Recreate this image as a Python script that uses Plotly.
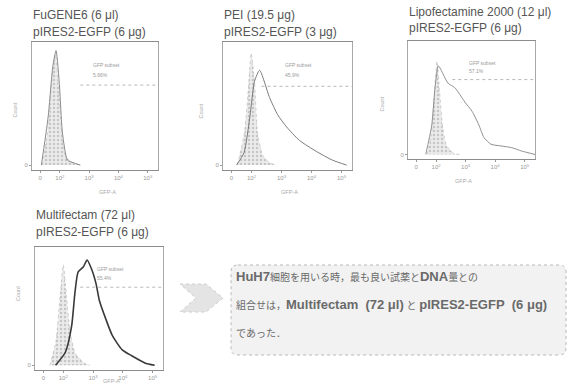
import plotly.graph_objects as go

W, H = 568, 390

# ---------------- data (u = log10 position on biexponential GFP-A axis) ----------------
titles = [
    ["FuGENE6 (6 μl)", "pIRES2-EGFP (6 μg)"],
    ["PEI (19.5 μg)", "pIRES2-EGFP (3 μg)"],
    ["Lipofectamine 2000 (12 μl)", "pIRES2-EGFP (6 μg)"],
    ["Multifectam (72 μl)", "pIRES2-EGFP (6 μg)"],
]
gfp_pct = ["5.66%", "45.9%", "57.1%", "55.4%"]

ctrl1_x = [1.40, 1.60, 1.75, 1.85, 1.95, 2.05, 2.20, 2.50, 2.70]
ctrl1_y = [0.00, 0.30, 0.75, 0.90, 0.65, 0.30, 0.07, 0.01, 0.00]
samp1_x = [1.37, 1.60, 1.76, 1.87, 1.98, 2.09, 2.26, 2.45, 2.70]
samp1_y = [0.00, 0.39, 0.80, 0.93, 0.67, 0.26, 0.04, 0.02, 0.00]

ctrl2_x = [1.53, 1.77, 1.91, 1.99, 2.10, 2.20, 2.37, 2.60, 2.82]
ctrl2_y = [0.00, 0.27, 0.67, 0.91, 0.67, 0.27, 0.08, 0.02, 0.00]
samp2_x = [1.50, 1.75, 1.95, 2.10, 2.27, 2.60, 2.87, 3.17, 3.60, 4.17, 4.70, 5.17]
samp2_y = [0.00, 0.10, 0.40, 0.68, 0.77, 0.55, 0.41, 0.31, 0.20, 0.11, 0.04, 0.00]

ctrl3_x = [1.70, 1.85, 1.95, 2.03, 2.12, 2.22, 2.35, 2.60, 2.80]
ctrl3_y = [0.00, 0.20, 0.55, 0.82, 0.55, 0.25, 0.08, 0.01, 0.00]
samp3_x = [1.65, 1.85, 1.97, 2.08, 2.40, 2.63, 2.80, 2.98, 3.22, 3.45, 3.62, 3.86, 4.20, 4.56, 4.90, 5.35]
samp3_y = [0.00, 0.25, 0.60, 0.78, 0.63, 0.59, 0.53, 0.46, 0.38, 0.26, 0.15, 0.09, 0.075, 0.06, 0.03, 0.00]

ctrl4_x = [1.55, 1.75, 1.90, 2.00, 2.10, 2.22, 2.40, 2.70, 2.90]
ctrl4_y = [0.00, 0.20, 0.60, 0.85, 0.60, 0.30, 0.10, 0.02, 0.00]
samp4_x = [1.74, 2.07, 2.28, 2.39, 2.50, 2.67, 2.80, 2.94, 3.10, 3.21, 3.43, 3.65, 3.98, 4.30, 4.74, 5.07]
samp4_y = [0.00, 0.11, 0.33, 0.61, 0.79, 0.83, 0.89, 0.82, 0.69, 0.55, 0.39, 0.25, 0.13, 0.08, 0.02, 0.00]

gate_start = [2.70, 2.33, 2.55, 2.57]
gate_level = [0.65, 0.64, 0.66, 0.66]

tick_vals = [1.33, 2, 3, 4, 5]
tick_text = ["0", "10<sup>2</sup>", "10<sup>3</sup>", "10<sup>4</sup>", "10<sup>5</sup>"]

L = '<span style="font-size:13px"><b>{}</b></span>'
summary_lines = [
    L.format("HuH7") + "細胞を用いる時，最も良い試薬と" + L.format("DNA") + "量との",
    "組合せは，" + L.format("Multifectam&nbsp;&nbsp;(72 μl)") + " と " + L.format("pIRES2-EGFP&nbsp;&nbsp;(6 μg)"),
    "であった．",
]

# ---------------- layout (pixel boxes: left, right, top, bottom) ----------------
boxes = [(32, 158, 42, 170), (223, 352, 42, 170), (408, 535, 41, 159), (35, 163, 247, 370)]
title_y = [(15, 32), (15, 32), (12, 28), (215, 232)]
ctrl = [(ctrl1_x, ctrl1_y), (ctrl2_x, ctrl2_y), (ctrl3_x, ctrl3_y), (ctrl4_x, ctrl4_y)]
samp = [(samp1_x, samp1_y), (samp2_x, samp2_y), (samp3_x, samp3_y), (samp4_x, samp4_y)]
samp_style = [("#8a8a8a", 1), ("#7a7a7a", 1), ("#909090", 1), ("#3a3a3a", 1.6)]

def px(x):
    return x / W

def py(y):
    return 1 - y / H

fig = go.Figure()
annotations = []
shapes = []
XR = [1.05, 5.35]
YR = [-0.04, 1.0]

for i in range(4):
    l, r, t, b = boxes[i]
    xa = "x" if i == 0 else f"x{i+1}"
    ya = "y" if i == 0 else f"y{i+1}"
    cx, cy = ctrl[i]
    sx, sy = samp[i]
    fig.add_trace(go.Scatter(
        x=cx, y=cy, xaxis=xa, yaxis=ya, mode="lines",
        line=dict(color="#c4c4c4", width=0.8, dash="dot", shape="spline", smoothing=0.6),
        fill="tozeroy", fillcolor="rgba(225,225,225,0.6)",
        fillpattern=dict(shape=".", fgcolor="#a0a0a0", bgcolor="#ebebeb", size=4, solidity=0.3),
        showlegend=False, hoverinfo="skip"))
    col, wd = samp_style[i]
    fig.add_trace(go.Scatter(
        x=sx, y=sy, xaxis=xa, yaxis=ya, mode="lines", line=dict(color=col, width=wd, shape="spline", smoothing=0.6),
        showlegend=False, hoverinfo="skip"))
    # gate line
    fig.add_trace(go.Scatter(
        x=[gate_start[i], XR[1]], y=[gate_level[i], gate_level[i]], xaxis=xa, yaxis=ya, mode="lines",
        line=dict(color="#b8b8b8", width=1, dash="dot"), showlegend=False, hoverinfo="skip"))
    sfx = "" if i == 0 else str(i + 1)
    fig.layout["xaxis" + sfx] = dict(
        domain=[px(l), px(r)], range=XR, anchor=ya, showgrid=False, zeroline=False,
        showline=True, mirror=True, linecolor="#8c8c8c", linewidth=1,
        tickvals=tick_vals, ticktext=tick_text, ticks="outside", ticklen=2, tickcolor="#999",
        tickfont=dict(size=6, color="#999", family="Liberation Sans"))
    fig.layout["yaxis" + sfx] = dict(
        domain=[py(b), py(t)], range=YR, anchor=xa, showgrid=False, zeroline=False,
        showline=True, mirror=True, linecolor="#a8a8a8", linewidth=1,
        tickvals=[0], ticktext=["0"], ticks="outside", ticklen=2, tickcolor="#999",
        tickfont=dict(size=6, color="#999", family="Liberation Sans"))
    # titles
    for k in range(2):
        annotations.append(dict(xref="paper", yref="paper", x=px(l - 1), y=py(title_y[i][k]),
                                text=titles[i][k], showarrow=False, xanchor="left", yanchor="middle",
                                font=dict(size=12, color="#555", family="Liberation Sans")))
    # gate labels
    annotations.append(dict(xref=xa, yref=ya, x=3.05, y=0.81, text="GFP subset", showarrow=False,
                            xanchor="left", yanchor="middle", font=dict(size=5, color="#999", family="Liberation Sans")))
    annotations.append(dict(xref=xa, yref=ya, x=3.05, y=0.735, text=gfp_pct[i], showarrow=False,
                            xanchor="left", yanchor="middle", font=dict(size=5, color="#999", family="Liberation Sans")))
    # axis titles
    annotations.append(dict(xref="paper", yref="paper", x=px((l + r) / 2 + 2), y=py(min(b + 22, 386)), text="GFP-A",
                            showarrow=False, font=dict(size=5.5, color="#aaa", family="Liberation Sans")))
    annotations.append(dict(xref="paper", yref="paper", x=px(l - 22), y=py((t + b) / 2 - 5), text="Count",
                            textangle=-90, showarrow=False, font=dict(size=5.5, color="#aaa", family="Liberation Sans")))

# summary box
shapes.append(dict(type="path", xref="paper", yref="paper",
                   path="M {x0},{y0} L {x1},{y0} Q {x2},{y0} {x2},{y1} L {x2},{y2} Q {x2},{y3} {x1},{y3} L {x0},{y3} Q {x4},{y3} {x4},{y2} L {x4},{y1} Q {x4},{y0} {x0},{y0} Z".format(
                       x0=px(238), x1=px(559), x2=px(566), x4=px(231), y0=py(265), y1=py(272), y2=py(348), y3=py(355)),
                   line=dict(color="#b8b8b8", width=1, dash="dot"), fillcolor="#f2f2f2"))
# arrow
shapes.append(dict(type="path", xref="paper", yref="paper",
                   path="M {a},{t} L {b},{t} L {c},{m} L {b},{bt} L {a},{bt} L {d},{m} Z".format(
                       a=px(180), b=px(206), c=px(223), d=px(196), t=py(284), m=py(298), bt=py(312)),
                   line=dict(color="#cccccc", width=1, dash="dot"), fillcolor="#e4e4e4"))

for k, line in enumerate(summary_lines):
    annotations.append(dict(xref="paper", yref="paper", x=px(234), y=py(276 + 28.5 * k), text=line,
                            showarrow=False, xanchor="left", yanchor="middle",
                            font=dict(size=10, color="#6a6a6a", family="Liberation Sans, Noto Sans CJK JP")))

fig.update_layout(width=W, height=H, margin=dict(l=0, r=0, t=0, b=0),
                  paper_bgcolor="white", plot_bgcolor="white",
                  annotations=annotations, shapes=shapes)
fig.write_html("out.html", config={"displayModeBar": False},
               post_script="document.body.style.margin='0px';")
